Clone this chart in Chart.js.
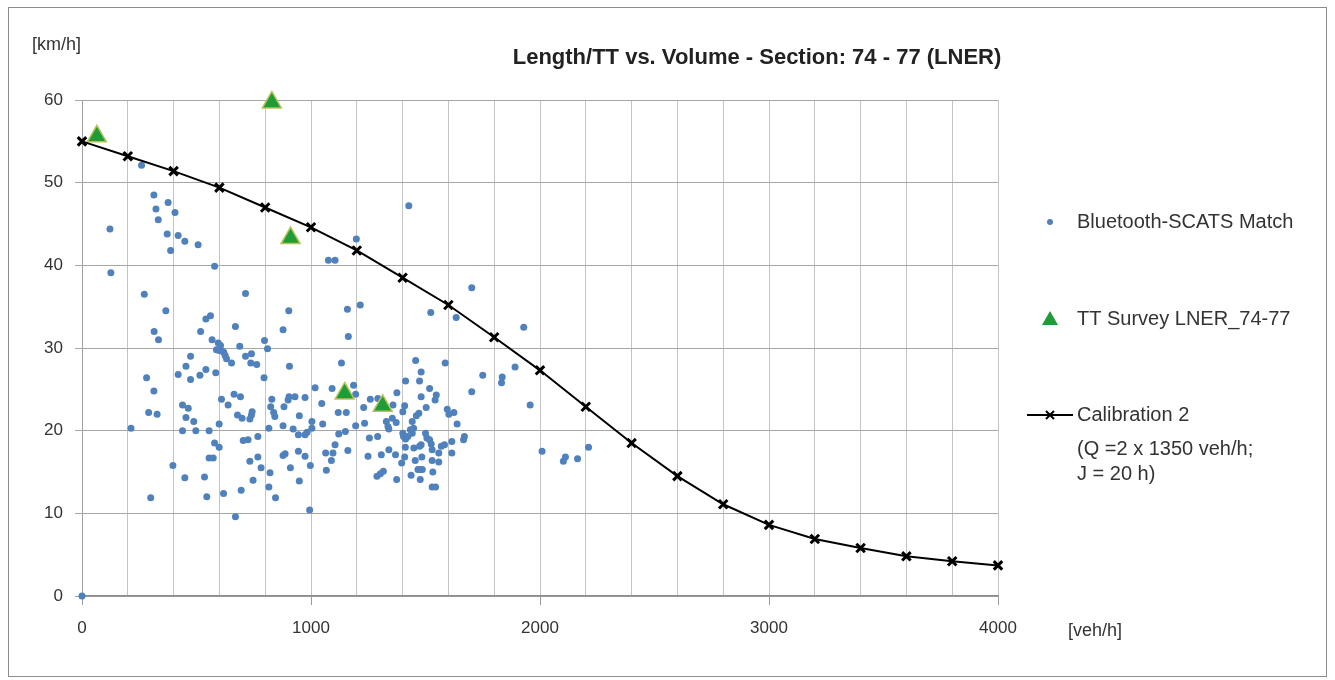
<!DOCTYPE html>
<html lang="en">
<head>
  <meta charset="UTF-8">
  <title>Length/TT vs. Volume - Section: 74 - 77 (LNER)</title>
  <script src="https://cdn.jsdelivr.net/npm/chart.js"></script>
  <style>
    html, body { margin: 0; padding: 0; background: #fff; }
    #wrap { width: 1335px; height: 680px; position: relative; }
  </style>
</head>
<body>
  <div id="wrap"><canvas id="chart" width="1335" height="680"></canvas></div>
  <script>
    // Bluetooth-SCATS match: volume [veh/h] and speed [km/h]
    const btVolume = [
      0, 122, 126, 214, 260, 272, 282, 291, 300, 314, 314, 315, 323, 328, 333, 334, 366, 372, 376, 387,
      397, 406, 420, 420, 439, 439, 449, 449, 454, 454, 464, 474, 474, 488, 497, 507, 515, 518, 535, 541,
      541, 545, 555, 555, 561, 568, 573, 579, 579, 584, 587, 595, 599, 599, 599, 605, 609, 613, 618, 619,
      625, 631, 638, 653, 664, 670, 670, 679, 689, 692, 695, 699, 704, 714, 714, 725, 733, 733, 737, 740,
      740, 743, 747, 763, 768, 768, 782, 795, 797, 810, 816, 816, 821, 824, 829, 837, 842, 845, 878, 878,
      878, 882, 887, 900, 903, 904, 906, 910, 922, 930, 945, 945, 949, 949, 974, 974, 974, 983, 994, 997,
      1004, 1004, 1018, 1047, 1051, 1064, 1067, 1076, 1089, 1092, 1096, 1105, 1105, 1119, 1121, 1133, 1150, 1154, 1159, 1161,
      1163, 1186, 1195, 1195, 1198, 1215, 1230, 1234, 1249, 1255, 1259, 1288, 1291, 1292, 1303, 1307, 1316, 1329, 1336, 1340,
      1340, 1355, 1358, 1369, 1372, 1374, 1375, 1396, 1401, 1401, 1404, 1409, 1409, 1412, 1413, 1413, 1423, 1427, 1434, 1437,
      1442, 1442, 1448, 1449, 1455, 1457, 1460, 1467, 1471, 1474, 1474, 1477, 1478, 1481, 1481, 1481, 1484, 1486, 1500, 1503,
      1506, 1518, 1518, 1525, 1523, 1529, 1529, 1532, 1529, 1544, 1542, 1547, 1558, 1558, 1569, 1583, 1586, 1595, 1602, 1615,
      1615, 1624, 1634, 1638, 1666, 1670, 1702, 1702, 1750, 1832, 1835, 1891, 1929, 1957, 2009, 2102, 2111, 2164, 2212
    ];
    const btSpeed = [
      0, 44.4, 39.1, 20.3, 52.1, 36.5, 26.4, 22.2, 11.9, 48.5, 24.8, 32.0, 46.8, 22.0, 45.5, 31.0, 34.5, 43.8, 47.6, 41.8,
      15.8, 46.4, 43.6, 26.8, 23.1, 20.0, 42.9, 14.3, 27.8, 21.6, 22.7, 29.0, 26.2, 21.1, 20.0, 42.5, 26.7, 32.0, 14.4, 33.5,
      27.4, 12.0, 20.0, 16.7, 33.9, 31.0, 16.7, 39.9, 18.5, 27.0, 29.8, 30.6, 29.7, 20.8, 18.0, 30.3, 23.8, 29.6, 12.4, 29.5,
      29.1, 28.7, 23.1, 28.2, 24.4, 32.6, 9.6, 21.9, 30.2, 24.1, 12.8, 21.5, 18.8, 36.6, 29.0, 18.9, 21.4, 16.3, 28.2, 29.3,
      21.9, 22.3, 14.0, 28.0, 19.3, 16.8, 15.5, 26.4, 30.9, 29.9, 20.3, 13.2, 14.9, 22.9, 23.8, 22.2, 21.7, 11.9, 32.2, 20.6,
      17.0, 22.9, 17.2, 23.7, 34.5, 24.1, 27.8, 15.5, 20.2, 24.1, 19.5, 17.5, 21.8, 13.9, 24.0, 19.5, 16.9, 19.8, 10.4, 15.8,
      21.1, 20.3, 25.2, 23.3, 20.8, 17.3, 15.2, 40.6, 16.4, 25.1, 17.3, 40.6, 18.3, 22.2, 19.6, 28.2, 19.9, 22.2, 34.7, 17.6,
      31.4, 25.5, 24.4, 20.6, 43.2, 35.2, 22.8, 20.9, 16.9, 19.1, 23.8, 14.5, 19.3, 23.9, 14.8, 17.1, 15.1, 21.1, 20.5, 20.2,
      17.7, 21.5, 23.1, 17.1, 21.0, 14.1, 24.6, 16.1, 22.3, 19.7, 19.3, 23.0, 16.8, 18.0, 26.0, 19.0, 19.3, 47.2, 20.1, 14.6,
      21.1, 19.7, 20.3, 17.9, 16.4, 28.5, 21.8, 15.3, 22.1, 26.0, 18.1, 14.1, 15.3, 27.1, 24.1, 18.3, 16.8, 15.3, 19.7, 22.8,
      19.1, 25.1, 18.9, 18.4, 34.3, 17.7, 16.4, 15.0, 13.2, 13.2, 23.7, 24.3, 17.3, 16.2, 18.1, 18.3, 28.2, 22.6, 22.0, 18.7,
      17.3, 22.2, 33.7, 20.8, 18.9, 19.3, 37.3, 24.7, 26.7, 25.8, 26.5, 27.7, 32.5, 23.1, 17.5, 16.3, 16.8, 16.6, 18.0
    ];

    // TT survey LNER_74-77
    const ttVolume = [65, 829, 911, 1147, 1313];
    const ttSpeed = [55.6, 59.7, 43.3, 24.5, 23.0];

    // Calibration 2 (Q = 2 x 1350 veh/h; J = 20 h)
    const calVolume = [0, 200, 400, 600, 800, 1000, 1200, 1400, 1600, 1800, 2000,
                       2200, 2400, 2600, 2800, 3000, 3200, 3400, 3600, 3800, 4000];
    const calSpeed = [55.0, 53.2, 51.4, 49.4, 47.0, 44.6, 41.8, 38.5, 35.2, 31.3, 27.3,
                      22.9, 18.5, 14.5, 11.1, 8.6, 6.9, 5.8, 4.8, 4.2, 3.7];

    const xTicks = [0, 1000, 2000, 3000, 4000];
    const yTicks = [0, 10, 20, 30, 40, 50, 60];

    const pts = (xs, ys) => xs.map((x, i) => ({ x: x, y: ys[i] }));

    const textFont = '"Liberation Sans", Arial, sans-serif';
    const blue = '#4f81bd';
    const green = '#1f9c38';

    // frame, title, axis units and the legend on the right
    const decorations = {
      id: 'decorations',
      beforeDraw(chart) {
        const c = chart.ctx;
        c.save();
        c.fillStyle = '#fff';
        c.fillRect(0, 0, chart.width, chart.height);
        c.strokeStyle = '#8c8c8c';
        c.lineWidth = 1;
        c.strokeRect(8.5, 7.5, 1318, 669);
        c.restore();
      },
      afterDraw(chart) {
        const c = chart.ctx;
        c.save();
        c.fillStyle = '#222';
        c.textBaseline = 'middle';
        c.font = 'bold 22px ' + textFont;
        c.textAlign = 'center';
        c.fillText('Length/TT vs. Volume - Section: 74 - 77 (LNER)', 757, 58);

        c.font = '18px ' + textFont;
        c.fillStyle = '#333';
        c.textAlign = 'left';
        c.fillText('[km/h]', 32, 45);
        c.fillText('[veh/h]', 1068, 631);

        // legend
        c.font = '20px ' + textFont;
        c.fillText('Bluetooth-SCATS Match', 1077, 222);
        c.fillText('TT Survey LNER_74-77', 1077, 319);
        c.fillText('Calibration 2', 1077, 415);
        c.fillText('(Q =2 x 1350 veh/h;', 1077, 449);
        c.fillText('J = 20 h)', 1077, 474);

        c.fillStyle = blue;
        c.beginPath();
        c.arc(1050, 222, 3, 0, Math.PI * 2);
        c.fill();

        c.fillStyle = green;
        c.beginPath();
        c.moveTo(1050, 311);
        c.lineTo(1058, 325);
        c.lineTo(1042, 325);
        c.closePath();
        c.fill();

        c.strokeStyle = '#000';
        c.lineWidth = 2;
        c.beginPath();
        c.moveTo(1027, 415);
        c.lineTo(1073, 415);
        c.moveTo(1046, 411); c.lineTo(1054, 419);
        c.moveTo(1054, 411); c.lineTo(1046, 419);
        c.stroke();
        c.restore();
      }
    };

    const ctx = document.getElementById('chart').getContext('2d');
    const chart = new Chart(ctx, {
      type: 'scatter',
      data: {
        datasets: [
          {
            label: 'Calibration 2',
            data: pts(calVolume, calSpeed),
            showLine: true,
            clip: false,
            borderColor: '#000',
            borderWidth: 2,
            pointStyle: 'crossRot',
            pointRadius: 6,
            pointBorderColor: '#000',
            pointBorderWidth: 3,
            order: 1
          },
          {
            label: 'TT Survey LNER_74-77',
            data: pts(ttVolume, ttSpeed),
            clip: false,
            pointStyle: 'triangle',
            pointRadius: 11,
            backgroundColor: green,
            borderColor: '#b9c25a',
            borderWidth: 1.5,
            order: 2
          },
          {
            label: 'Bluetooth-SCATS Match',
            data: pts(btVolume, btSpeed),
            clip: false,
            pointRadius: 3.5,
            backgroundColor: blue,
            borderColor: blue,
            borderWidth: 0,
            order: 3
          }
        ]
      },
      options: {
        responsive: false,
        animation: false,
        layout: { padding: { top: 100, right: 337, left: 0, bottom: 0 } },
        plugins: {
          legend: { display: false },
          tooltip: { enabled: false }
        },
        scales: {
          x: {
            type: 'linear',
            min: 0,
            max: 4000,
            afterFit(scale) { scale.height = 84; },
            afterBuildTicks(scale) {
              const t = [];
              for (let v = 0; v <= 4000; v += 200) t.push({ value: v });
              scale.ticks = t;
            },
            grid: {
              color: ctx => ctx.tick && ctx.tick.value === 0 ? '#a0a0a0' : '#c4c4c4',
              tickColor: ctx => ctx.tick && xTicks.includes(ctx.tick.value) ? '#9a9a9a' : 'rgba(0,0,0,0)',
              tickLength: 9,
              lineWidth: 1
            },
            border: { color: '#8c8c8c', width: 1.5 },
            ticks: {
              autoSkip: false,
              maxRotation: 0,
              padding: 13,
              color: '#333',
              font: { family: textFont, size: 17 },
              callback: v => xTicks.includes(v) ? String(v) : ''
            }
          },
          y: {
            type: 'linear',
            min: 0,
            max: 60,
            afterFit(scale) { scale.width = 82; },
            afterBuildTicks(scale) { scale.ticks = yTicks.map(v => ({ value: v })); },
            grid: { color: '#a6a6a6', tickColor: '#a6a6a6', tickLength: 7, lineWidth: 1 },
            border: { display: false },
            ticks: {
              padding: 12,
              color: '#333',
              font: { family: textFont, size: 17 }
            }
          }
        }
      },
      plugins: [decorations]
    });
  </script>
</body>
</html>
